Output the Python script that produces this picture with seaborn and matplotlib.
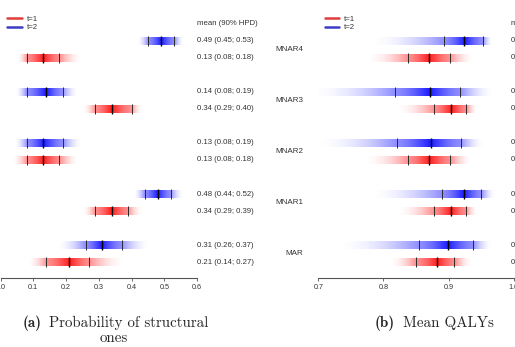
import numpy as np
import pandas as pd
import seaborn as sns
import matplotlib.pyplot as plt
from matplotlib.lines import Line2D

# ---- data (rows ordered bottom to top: MAR ... MNAR4) ----
groups = ['MAR', 'MNAR1', 'MNAR2', 'MNAR3', 'MNAR4']

# (a) probability of structural ones
a_t1_mean = [0.21, 0.34, 0.13, 0.34, 0.13]
a_t1_lo = [0.14, 0.29, 0.08, 0.29, 0.08]
a_t1_hi = [0.27, 0.39, 0.18, 0.40, 0.18]
a_t2_mean = [0.31, 0.48, 0.13, 0.14, 0.49]
a_t2_lo = [0.26, 0.44, 0.08, 0.08, 0.45]
a_t2_hi = [0.37, 0.52, 0.19, 0.19, 0.53]
# visible extent of the density shading
a_t1_tail_lo = [0.08, 0.25, 0.035, 0.25, 0.05]
a_t1_tail_hi = [0.385, 0.435, 0.24, 0.435, 0.25]
a_t2_tail_lo = [0.17, 0.405, 0.04, 0.045, 0.417]
a_t2_tail_hi = [0.46, 0.56, 0.25, 0.24, 0.558]

# (b) mean QALYs
b_t1_mean = [0.882, 0.903, 0.870, 0.904, 0.870]
b_t1_lo = [0.850, 0.877, 0.838, 0.878, 0.838]
b_t1_hi = [0.909, 0.926, 0.902, 0.927, 0.902]
b_t2_mean = [0.899, 0.923, 0.873, 0.871, 0.924]
b_t2_lo = [0.855, 0.890, 0.820, 0.818, 0.893]
b_t2_hi = [0.937, 0.950, 0.919, 0.918, 0.952]
b_t1_tail_lo = [0.807, 0.818, 0.767, 0.818, 0.772]
b_t1_tail_hi = [0.936, 0.944, 0.936, 0.944, 0.940]
b_t2_tail_lo = [0.726, 0.776, 0.695, 0.684, 0.776]
b_t2_tail_hi = [0.967, 0.972, 0.956, 0.972, 0.967]

RED = (1.0, 0.0, 0.0)
BLUE = (0.0, 0.0, 1.0)

sns.set_theme(style='white')
plt.rcParams['font.family'] = ['Liberation Sans', 'DejaVu Sans']

fig = plt.figure(figsize=(5.15, 3.47), dpi=100)
W, H = 515, 347
axis_y = 278
ylim = (-0.94, 15.41)
ax_a = fig.add_axes([0.5 / W, (H - axis_y) / H, 196.5 / W, axis_y / H])
ax_b = fig.add_axes([318.3 / W, (H - axis_y) / H, 195.5 / W, axis_y / H])


def band(ax, y, m, lo, hi, tlo, thi, color, h=0.47):
    x = np.linspace(tlo, thi, 500)
    edge, top = 0.45, 0.9
    a = np.zeros_like(x)
    s = x < lo
    a[s] = edge * ((x[s] - tlo) / (lo - tlo)) ** 2
    s = (x >= lo) & (x <= m)
    a[s] = edge + (top - edge) * ((x[s] - lo) / (m - lo)) ** 1.5
    s = (x > m) & (x <= hi)
    a[s] = edge + (top - edge) * ((hi - x[s]) / (hi - m)) ** 1.5
    s = x > hi
    a[s] = edge * ((thi - x[s]) / (thi - hi)) ** 2
    img = np.zeros((1, len(x), 4))
    img[..., :3] = color
    img[..., 3] = np.clip(a, 0, 1)
    ax.imshow(img, extent=[tlo, thi, y - h / 2, y + h / 2], aspect='auto',
              interpolation='bilinear', zorder=1)


def panel(ax, xlim, ticks, t1, t2, text_x, labels):
    rows = []
    for g in range(len(groups)):
        for (m, lo, hi, tl, th), col, dy in ((t1, RED, 0), (t2, BLUE, 1)):
            y = 3 * g + dy
            band(ax, y, m[g], lo[g], hi[g], tl[g], th[g], col)
            rows.append({'y': y, 'x': m[g], 'kind': 'mean'})
            rows.append({'y': y, 'x': lo[g], 'kind': 'bound'})
            rows.append({'y': y, 'x': hi[g], 'kind': 'bound'})
            ax.annotate(f'{m[g]:.2f} ({lo[g]:.2f}; {hi[g]:.2f})', xy=(text_x, y),
                        xycoords='data', ha='left', va='center', fontsize=5.6,
                        color='#333333', annotation_clip=False)
        if labels:
            ax.annotate(groups[g], xy=(0, 3 * g + 0.5), xycoords=('axes fraction', 'data'),
                        xytext=(-15, 0), textcoords='offset pixels', ha='right',
                        va='center', fontsize=5.8, color='#333333')
    ticks_df = pd.DataFrame(rows)
    sns.scatterplot(data=ticks_df[ticks_df.kind == 'bound'], x='x', y='y', ax=ax,
                    marker='|', s=60, color='#2a2a2a', linewidth=0.7, zorder=3)
    sns.scatterplot(data=ticks_df[ticks_df.kind == 'mean'], x='x', y='y', ax=ax,
                    marker='|', s=60, color='black', linewidth=1.0, zorder=4)
    ax.annotate('mean (90% HPD)', xy=(text_x, 14.0), xycoords='data', ha='left',
                va='center', fontsize=5.6, color='#333333', annotation_clip=False)
    ax.set_xlim(xlim)
    ax.set_ylim(ylim)
    ax.set_xticks(ticks)
    ax.set_xticklabels([f'{t:.1f}' for t in ticks])
    ax.set_yticks([])
    ax.set_xlabel('')
    ax.set_ylabel('')
    for sp in ('left', 'right', 'top'):
        ax.spines[sp].set_visible(False)
    ax.spines['bottom'].set_color('#555555')
    ax.spines['bottom'].set_linewidth(0.8)
    ax.tick_params(axis='x', bottom=True, length=2.5, width=0.6, color='#555555',
                   labelsize=5.2, labelcolor='#333333', pad=1.5)
    ax.patch.set_alpha(0)
    handles = [Line2D([], [], color='#e03c3c', lw=1.8), Line2D([], [], color='#3c3cc8', lw=1.8)]
    ax.legend(handles, ['t=1', 't=2'], loc='upper left', bbox_to_anchor=(0.005, 0.965),
              frameon=False, fontsize=5.6, handlelength=1.9, handletextpad=0.6,
              labelspacing=0.15, borderaxespad=0.3, labelcolor='#333333')


panel(ax_a, (0.0, 0.6), [0.0, 0.1, 0.2, 0.3, 0.4, 0.5, 0.6],
      (a_t1_mean, a_t1_lo, a_t1_hi, a_t1_tail_lo, a_t1_tail_hi),
      (a_t2_mean, a_t2_lo, a_t2_hi, a_t2_tail_lo, a_t2_tail_hi), 0.601, False)
panel(ax_b, (0.7, 1.0), [0.7, 0.8, 0.9, 1.0],
      (b_t1_mean, b_t1_lo, b_t1_hi, b_t1_tail_lo, b_t1_tail_hi),
      (b_t2_mean, b_t2_lo, b_t2_hi, b_t2_tail_lo, b_t2_tail_hi), 0.996, True)

# captions
cap = 10.8
fig.text(23 / W, 1 - 323 / H, '(a)', family='cmb10', fontsize=cap, ha='left', va='center')
fig.text(49 / W, 1 - 323 / H, 'Probability of structural', family='cmr10', fontsize=cap,
         ha='left', va='center')
fig.text(114 / W, 1 - 338 / H, 'ones', family='cmr10', fontsize=cap, ha='center',
         va='center')
fig.text(375 / W, 1 - 323 / H, '(b)', family='cmb10', fontsize=cap, ha='left', va='center')
fig.text(403 / W, 1 - 323 / H, 'Mean QALYs', family='cmr10', fontsize=cap, ha='left',
         va='center')

fig.savefig('out.png', dpi=100)
